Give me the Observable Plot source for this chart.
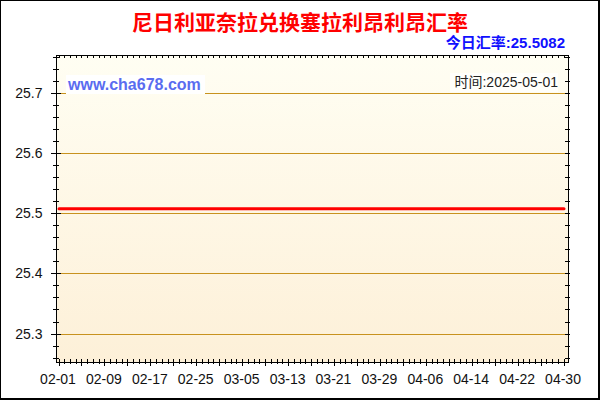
<!DOCTYPE html>
<html><head><meta charset="utf-8">
<script src="https://cdn.jsdelivr.net/npm/d3@7"></script>
<script src="https://cdn.jsdelivr.net/npm/@observablehq/plot@0.6"></script>
<style>
body{margin:0;background:#fff;}
#wrap{position:relative;width:600px;height:400px;overflow:hidden;font-family:"Liberation Sans",Arial,sans-serif;background:#fff;}
#chart{position:absolute;left:0;top:0;}
#border{position:absolute;left:0;top:0;width:600px;height:400px;box-sizing:border-box;border-left:1px solid #000;border-top:1px solid #000;border-right:2px solid #000;border-bottom:2px solid #000;pointer-events:none;}
#title{position:absolute;left:0;width:600px;top:7px;text-align:center;color:#ff0000;font-weight:bold;font-size:21px;line-height:28px;font-family:"Noto Sans CJK SC",sans-serif;}
#rate{position:absolute;right:35px;top:33px;color:#1010ff;font-weight:bold;font-size:15px;line-height:20px;font-family:"Liberation Sans","Noto Sans CJK SC",sans-serif;}
#site{position:absolute;left:66px;top:75px;width:137px;height:19px;padding-left:2px;background:#fff;color:#5a6cf0;font-weight:bold;font-size:16px;line-height:19px;font-family:"Liberation Sans",Arial,sans-serif;}
#time{position:absolute;left:450px;top:73px;width:108px;height:19px;background:#fffffb;color:#222;font-size:14px;line-height:19px;text-align:right;font-family:"Liberation Sans","Noto Sans CJK SC",sans-serif;}
</style></head>
<body>
<div id="wrap">
  <div id="chart"></div>
  <div id="title"></div>
  <div id="rate"></div>
  <div id="site"></div>
  <div id="time"></div>
  <div id="border"></div>
</div>
<script>
const titleText = "尼日利亚奈拉兑换塞拉利昂利昂汇率";
const rateText = "今日汇率:25.5082";
const siteText = "www.cha678.com";
const timeText = "时间:2025-05-01";

const year = "2025";
const xTickLabels = ["02-01","02-09","02-17","02-25","03-05","03-13","03-21","03-29","04-06","04-14","04-22","04-30"];
const yTickValues = [25.3, 25.4, 25.5, 25.6, 25.7];
const seriesDates = ["02-01","02-09","02-17","02-25","03-05","03-13","03-21","03-29","04-06","04-14","04-22","04-30"];
const seriesRates = [25.5082,25.5082,25.5082,25.5082,25.5082,25.5082,25.5082,25.5082,25.5082,25.5082,25.5082,25.5082];
const xDomain = ["2025-01-31T13:30:00Z","2025-04-30T18:45:00Z"];
const yDomain = [25.2527, 25.763];
const yMinorStep = 0.02;

document.getElementById("title").textContent = titleText;
document.getElementById("rate").textContent = rateText;
document.getElementById("site").textContent = siteText;
document.getElementById("time").textContent = timeText;

const parse = d3.utcParse("%Y-%m-%d");
const fmt = d3.utcFormat("%m-%d");
const series = seriesDates.map((d, i) => ({date: parse(year + "-" + d), rate: seriesRates[i]}));
const xTicks = xTickLabels.map(d => parse(year + "-" + d));
const xDom = xDomain.map(d => new Date(d));

function background(index, scales, values, dims) {
  const g = d3.create("svg:g");
  const defs = g.append("defs");
  const grad = defs.append("linearGradient").attr("id", "bgGrad").attr("x1", 0).attr("y1", 0).attr("x2", 0).attr("y2", 1);
  grad.append("stop").attr("offset", "0%").attr("stop-color", "#fffef3");
  grad.append("stop").attr("offset", "100%").attr("stop-color", "#fdf0d8");
  g.append("rect")
    .attr("x", dims.marginLeft).attr("y", dims.marginTop)
    .attr("width", dims.width - dims.marginLeft - dims.marginRight)
    .attr("height", dims.height - dims.marginTop - dims.marginBottom)
    .attr("fill", "url(#bgGrad)");
  return g.node();
}

function gridLines(index, {y}, values, dims) {
  const g = d3.create("svg:g").attr("stroke", "#c8921e").attr("stroke-width", 1).attr("shape-rendering", "crispEdges");
  const l = dims.marginLeft, r = dims.width - dims.marginRight;
  yTickValues.forEach(v => {
    const py = Math.round(y(v)) + 0.5;
    g.append("line").attr("x1", l).attr("x2", r).attr("y1", py).attr("y2", py);
  });
  return g.node();
}

function frameTicks(index, {x, y}, values, dims) {
  const g = d3.create("svg:g").attr("stroke", "#000").attr("stroke-width", 1).attr("shape-rendering", "crispEdges");
  const l = dims.marginLeft, r = dims.width - dims.marginRight;
  const t = dims.marginTop, b = dims.height - dims.marginBottom;
  const days = d3.utcDay.range(xTicks[0], d3.utcDay.offset(xTicks[xTicks.length - 1], 1));
  days.forEach((d, i) => {
    const px = Math.round(x(d)) + 0.5;
    const long = i % 4 === 0;
    g.append("line").attr("x1", px).attr("x2", px).attr("y1", b - 3).attr("y2", b + (long ? 4 : 2));
    g.append("line").attr("x1", px).attr("x2", px).attr("y1", t).attr("y2", t + 3);
  });
  const minors = d3.range(Math.ceil(yDomain[0] / yMinorStep), Math.floor(yDomain[1] / yMinorStep) + 1).map(k => k * yMinorStep);
  minors.forEach(v => {
    const py = Math.round(y(v)) + 0.5;
    g.append("line").attr("x1", l - 3).attr("x2", l + 3).attr("y1", py).attr("y2", py);
    g.append("line").attr("x1", r - 3).attr("x2", r + 2).attr("y1", py).attr("y2", py);
  });
  yTickValues.forEach(v => {
    const py = Math.round(y(v)) + 0.5;
    g.append("line").attr("x1", l - 5).attr("x2", l + 5).attr("y1", py).attr("y2", py);
  });
  return g.node();
}

const chart = Plot.plot({
  width: 600, height: 400,
  marginLeft: 56, marginRight: 32, marginTop: 55, marginBottom: 38,
  style: {background: "transparent", fontFamily: "'Liberation Sans', Arial, sans-serif", fontSize: "14px", color: "#111"},
  x: {type: "utc", domain: xDom, label: null},
  y: {domain: yDomain, label: null},
  marks: [
    background,
    gridLines,
    Plot.line(series, {x: "date", y: "rate", stroke: "#ff0000", strokeWidth: 3}),
    frameTicks,
    Plot.frame({stroke: "#000", strokeWidth: 1}),
    Plot.axisY(yTickValues, {tickSize: 0, tickPadding: 14, tickFormat: d => d.toFixed(1), fontSize: 14}),
    Plot.axisX(xTicks, {tickSize: 0, tickPadding: 12, tickFormat: fmt, dx: -1, fontSize: 14})
  ]
});
document.getElementById("chart").appendChild(chart);
</script>
</body></html>
